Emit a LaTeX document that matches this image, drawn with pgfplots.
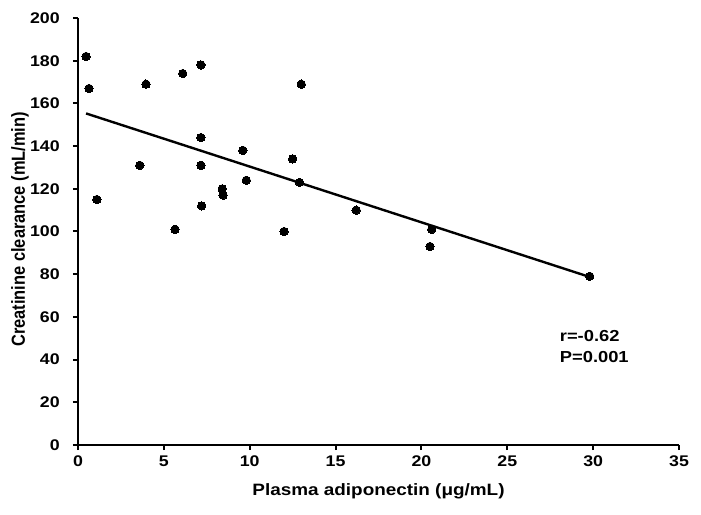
\documentclass[border=0pt]{standalone}
\usepackage{fontspec}
\setmainfont{Liberation Sans}
\usepackage{pgfplots}
\usetikzlibrary{calc}
\pgfplotsset{compat=1.18}
\newcommand{\tickfont}{\fontsize{15.5}{18}\selectfont\bfseries}
\newcommand{\lblfont}{\fontsize{16.5}{19}\selectfont\bfseries}
\newcommand{\txtfont}{\fontsize{16}{19}\selectfont\bfseries}
\begin{document}
\begin{tikzpicture}
\begin{axis}[
  scale only axis,
  width=601bp, height=427bp,
  xmin=0, xmax=35, ymin=0, ymax=200,
  axis lines=left,
  axis line style={line width=2.2bp, -},
  xtick={0,5,...,35}, ytick={0,20,...,200},
  tick align=outside,
  major tick length=5bp,
  tick style={line width=2bp, black},
  /pgf/number format/assume math mode=true,
  tick label style={font=\tickfont, xscale=1.15},
  xticklabel style={yshift=-2bp},
  yticklabel style={xshift=-8bp},
  xlabel={Plasma adiponectin (μg/mL)},
  ylabel={Creatinine clearance (mL/min)},
  every axis x label/.style={at={(axis description cs:0.5,-0.108)}, anchor=center, font=\lblfont, xscale=1.15},
  every axis y label/.style={at={(axis description cs:-0.0965,0.505)}, rotate=90, anchor=center, font=\lblfont, yscale=1.15},
  clip=false,
]
\addplot[only marks, mark=*, mark size=4.2bp, mark options={draw=black, fill=black, line width=0pt}] coordinates {
(0.47,182) (0.64,167) (1.1,115) (3.6,131) (3.96,169) (5.65,101) (6.1,174)
(7.16,178) (7.16,144) (7.16,131) (7.2,112) (8.4,120) (8.45,117) (9.6,138)
(9.8,124) (12.0,100) (12.5,134) (12.9,123) (13.0,169) (16.2,110)
(20.6,101) (20.5,93) (29.8,79)
};
\addplot[line width=2.4bp, black, no marks] coordinates {(0.47,155.3) (29.8,78.7)};
\node[anchor=west, inner sep=0pt, font=\txtfont, xscale=1.15] at (axis cs:28.05,51) {r=-0.62};
\node[anchor=west, inner sep=0pt, font=\txtfont, xscale=1.15] at (axis cs:28.05,41.3) {P=0.001};
\end{axis}
\pgfresetboundingbox
\path ($(current axis.south west)+(-78bp,-70bp)$) rectangle ($(current axis.north east)+(22bp,18bp)$);
\end{tikzpicture}
\end{document}
